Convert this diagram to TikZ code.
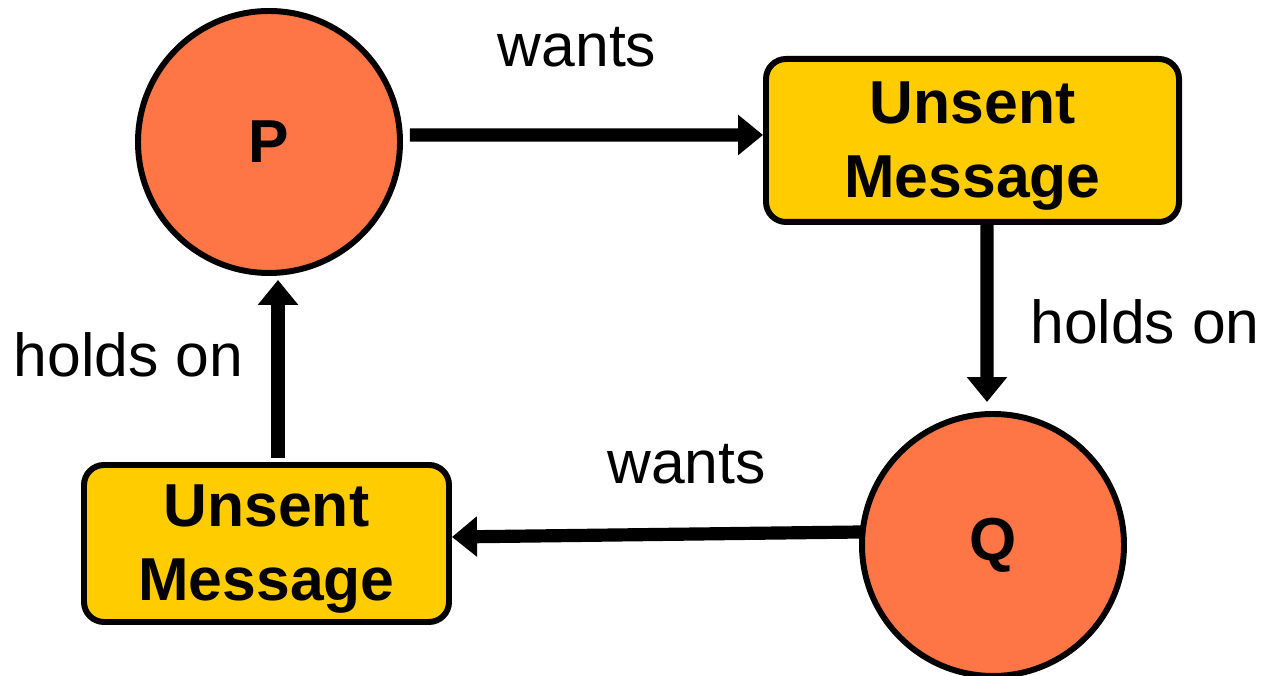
\documentclass[tikz,border=0pt]{standalone}
\usepackage{fontspec}
\setmainfont{Liberation Sans}
\usetikzlibrary{arrows.meta}
\definecolor{procorange}{RGB}{255,118,70}
\definecolor{msgyellow}{RGB}{255,204,0}
\tikzset{
  >={Triangle[length=0.5cm,width=0.78cm]},
}
\tikzstyle{every node}=[font=\fontsize{34.5}{42}\selectfont]
\tikzstyle{proc}=[circle,draw,line width=3.4pt,fill=procorange,minimum size=5.24cm,inner sep=0pt,font=\fontsize{34.5}{42}\selectfont\bfseries]
\tikzstyle{msg}=[rectangle,rounded corners=0.4cm,draw,line width=3.4pt,fill=msgyellow,align=center,font=\fontsize{34.5}{42}\selectfont\bfseries]
\tikzstyle{link}=[line width=7.5pt,->]
\newcommand{\msgstrut}{\rule{0pt}{1.05cm}}

\begin{document}
\begin{tikzpicture}
    \useasboundingbox (0,0) rectangle (25.4,13.52);
    \node[proc] (P) at (5.38,10.68) {P};
    \node[proc] (Q) at (19.86,2.62) {Q};
    \node[msg,minimum width=8.26cm,minimum height=3.26cm] (msgA) at (19.45,10.71) {\msgstrut Unsent\\Message};
    \node[msg,minimum width=7.3cm,minimum height=3.14cm] (msgB) at (5.33,2.65) {\msgstrut Unsent\\Message};
    \draw[link] ([shift={(0.14,0.14)}]P.east) -- ([yshift=0.11cm]msgA.west);
    \draw[link] ([xshift=0.29cm]msgA.south) -- ([xshift=-0.12cm,yshift=0.18cm]Q.north);
    \draw[link] ([shift={(0.04,0.26)}]Q.west) -- ([yshift=0.13cm]msgB.east);
    \draw[link] ([shift={(0.23,0.08)}]msgB.north) -- ([shift={(0.18,-0.08)}]P.south);
    \node[anchor=base] (wantsA) at (11.54,12.18) {wants};
    \node[anchor=base] (holdsA) at (22.9,6.64) {holds on};
    \node[anchor=base] (wantsB) at (13.73,3.84) {wants};
    \node[anchor=base] (holdsB) at (2.57,5.98) {holds on};
  \end{tikzpicture}
\end{document}
